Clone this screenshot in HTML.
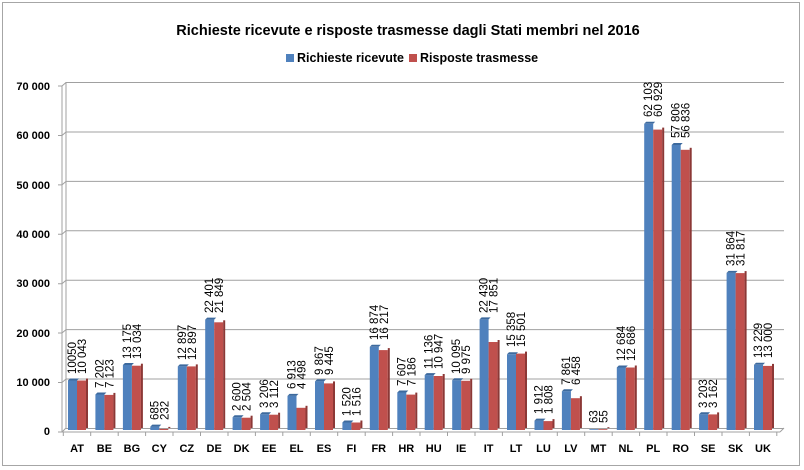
<!DOCTYPE html>
<html><head><meta charset="utf-8"><style>
body{margin:0;background:#fff}
svg{display:block;font-family:"Liberation Sans",sans-serif}
.yl{font-size:11px;font-weight:bold;text-anchor:end}
.xl{font-size:11px;font-weight:bold;text-anchor:middle}
.v{font-size:11.5px}
</style></head><body>
<svg width="804" height="470" xmlns="http://www.w3.org/2000/svg">
<rect x="2.5" y="2.5" width="797" height="463" fill="#fff" stroke="#a6a6a6"/>
<text x="408" y="35" text-anchor="middle" font-size="14.5" font-weight="bold">Richieste ricevute e risposte trasmesse dagli Stati membri nel 2016</text>
<rect x="286" y="54" width="8" height="8" fill="#4f81bd"/>
<text x="297" y="62" font-size="12.5" font-weight="bold">Richieste ricevute</text>
<rect x="409" y="54" width="8" height="8" fill="#c0504d"/>
<text x="420" y="62" font-size="12.5" font-weight="bold">Risposte trasmesse</text>
<g stroke="#a0a0a0" stroke-width="1" fill="none">
<path d="M66 428.5H784M66 379H784M66 329.6H784M66 280.2H784M66 230.8H784M66 181.4H784M66 132H784M66 82.5H784"/>
<path d="M66 82V428M62 86V432M62 432H780M780 432L784 428"/>
<path d="M62 432L66 428M62 382.5L66 379M62 333L66 329.6M62 283.7L66 280.2M62 234.3L66 230.8M62 184.9L66 181.4M62 135.5L66 132M62 86L66 82.5"/>
<path d="M58 432H62M58 382.5H62M58 333H62M58 283.7H62M58 234.3H62M58 184.9H62M58 135.5H62M58 86H62"/>
<path d="M63.3 432v4M90.7 432v4M118.2 432v4M145.6 432v4M173 432v4M200.5 432v4M228 432v4M255.4 432v4M282.8 432v4M310.3 432v4M337.7 432v4M365.2 432v4M392.6 432v4M420 432v4M447.5 432v4M475 432v4M502.4 432v4M529.8 432v4M557.3 432v4M584.7 432v4M612.2 432v4M639.6 432v4M667 432v4M694.5 432v4M722 432v4M749.4 432v4M776.8 432v4"/>
</g>
<g class="yl">
<text x="50" y="435">0</text><text x="50" y="386">10 000</text><text x="50" y="337">20 000</text><text x="50" y="287">30 000</text><text x="50" y="238">40 000</text><text x="50" y="189">50 000</text><text x="50" y="139">60 000</text><text x="50" y="90">70 000</text>
</g>
<g class="xl">
<text x="77" y="452">AT</text><text x="104.4" y="452">BE</text><text x="131.9" y="452">BG</text><text x="159.3" y="452">CY</text><text x="186.8" y="452">CZ</text><text x="214.2" y="452">DE</text><text x="241.6" y="452">DK</text><text x="269.1" y="452">EE</text><text x="296.5" y="452">EL</text><text x="324" y="452">ES</text><text x="351.4" y="452">FI</text><text x="378.8" y="452">FR</text><text x="406.3" y="452">HR</text><text x="433.7" y="452">HU</text><text x="461.2" y="452">IE</text><text x="488.6" y="452">IT</text><text x="516" y="452">LT</text><text x="543.5" y="452">LU</text><text x="570.9" y="452">LV</text><text x="598.4" y="452">MT</text><text x="625.8" y="452">NL</text><text x="653.2" y="452">PL</text><text x="680.7" y="452">RO</text><text x="708.1" y="452">SE</text><text x="735.6" y="452">SK</text><text x="763" y="452">UK</text>
</g>
<g fill="#4f81bd">
<rect x="68" y="380.5" width="9" height="49.5"/><rect x="95.4" y="394.5" width="9" height="35.5"/><rect x="122.9" y="365" width="9" height="65"/><rect x="150.3" y="426.6" width="9" height="3.4"/><rect x="177.8" y="366.4" width="9" height="63.6"/><rect x="205.2" y="319.6" width="9" height="110.4"/><rect x="232.6" y="417.2" width="9" height="12.8"/><rect x="260.1" y="414.2" width="9" height="15.8"/><rect x="287.5" y="395.9" width="9" height="34.1"/><rect x="315" y="381.4" width="9" height="48.6"/><rect x="342.4" y="422.5" width="9" height="7.5"/><rect x="369.8" y="346.8" width="9" height="83.2"/><rect x="397.3" y="392.5" width="9" height="37.5"/><rect x="424.7" y="375.1" width="9" height="54.9"/><rect x="452.2" y="380.2" width="9" height="49.8"/><rect x="479.6" y="319.4" width="9" height="110.6"/><rect x="507" y="354.3" width="9" height="75.7"/><rect x="534.5" y="420.6" width="9" height="9.4"/><rect x="561.9" y="391.2" width="9" height="38.8"/><rect x="589.4" y="429.2" width="9" height="0.8"/><rect x="616.8" y="367.5" width="9" height="62.5"/><rect x="644.2" y="123.8" width="9" height="306.2"/><rect x="671.7" y="145" width="9" height="285"/><rect x="699.1" y="414.2" width="9" height="15.8"/><rect x="726.6" y="272.9" width="9" height="157.1"/><rect x="754" y="364.8" width="9" height="65.2"/>
</g>
<g fill="#c0504d">
<rect x="77" y="380.5" width="9" height="49.5"/><rect x="104.4" y="394.9" width="9" height="35.1"/><rect x="131.9" y="365.7" width="9" height="64.3"/><rect x="159.3" y="428.9" width="9" height="1.1"/><rect x="186.8" y="366.4" width="9" height="63.6"/><rect x="214.2" y="322.3" width="9" height="107.7"/><rect x="241.6" y="417.7" width="9" height="12.3"/><rect x="269.1" y="414.7" width="9" height="15.3"/><rect x="296.5" y="407.8" width="9" height="22.2"/><rect x="324" y="383.4" width="9" height="46.6"/><rect x="351.4" y="422.5" width="9" height="7.5"/><rect x="378.8" y="350.1" width="9" height="79.9"/><rect x="406.3" y="394.6" width="9" height="35.4"/><rect x="433.7" y="376" width="9" height="54"/><rect x="461.2" y="380.8" width="9" height="49.2"/><rect x="488.6" y="342" width="9" height="88"/><rect x="516" y="353.6" width="9" height="76.4"/><rect x="543.5" y="421.1" width="9" height="8.9"/><rect x="570.9" y="398.2" width="9" height="31.8"/><rect x="598.4" y="429.2" width="9" height="0.8"/><rect x="625.8" y="367.5" width="9" height="62.5"/><rect x="653.2" y="129.6" width="9" height="300.4"/><rect x="680.7" y="149.8" width="9" height="280.2"/><rect x="708.1" y="414.4" width="9" height="15.6"/><rect x="735.6" y="273.1" width="9" height="156.9"/><rect x="763" y="365.9" width="9" height="64.1"/>
</g>
<g fill="#8c3836">
<rect x="86" y="378.5" width="2" height="49.5"/><rect x="113.4" y="392.9" width="2" height="35.1"/><rect x="140.9" y="363.7" width="2" height="64.3"/><rect x="168.3" y="426.9" width="2" height="1.1"/><rect x="195.8" y="364.4" width="2" height="63.6"/><rect x="223.2" y="320.3" width="2" height="107.7"/><rect x="250.6" y="415.7" width="2" height="12.3"/><rect x="278.1" y="412.7" width="2" height="15.3"/><rect x="305.5" y="405.8" width="2" height="22.2"/><rect x="333" y="381.4" width="2" height="46.6"/><rect x="360.4" y="420.5" width="2" height="7.5"/><rect x="387.8" y="348.1" width="2" height="79.9"/><rect x="415.3" y="392.6" width="2" height="35.4"/><rect x="442.7" y="374" width="2" height="54"/><rect x="470.2" y="378.8" width="2" height="49.2"/><rect x="497.6" y="340" width="2" height="88"/><rect x="525" y="351.6" width="2" height="76.4"/><rect x="552.5" y="419.1" width="2" height="8.9"/><rect x="579.9" y="396.2" width="2" height="31.8"/><rect x="607.4" y="427.2" width="2" height="1"/><rect x="634.8" y="365.5" width="2" height="62.5"/><rect x="662.2" y="127.6" width="2" height="300.4"/><rect x="689.7" y="147.8" width="2" height="280.2"/><rect x="717.1" y="412.4" width="2" height="15.6"/><rect x="744.6" y="271.1" width="2" height="156.9"/><rect x="772" y="363.9" width="2" height="64.1"/>
</g>
<g fill="#3d6a9e">
<path d="M68 380.5l2-2h9l-2 2z"/><path d="M95.4 394.5l2-2h9l-2 2z"/><path d="M122.9 365l2-2h9l-2 2z"/><path d="M150.3 426.6l2-2h9l-2 2z"/><path d="M177.8 366.4l2-2h9l-2 2z"/><path d="M205.2 319.6l2-2h9l-2 2z"/><path d="M232.6 417.2l2-2h9l-2 2z"/><path d="M260.1 414.2l2-2h9l-2 2z"/><path d="M287.5 395.9l2-2h9l-2 2z"/><path d="M315 381.4l2-2h9l-2 2z"/><path d="M342.4 422.5l2-2h9l-2 2z"/><path d="M369.8 346.8l2-2h9l-2 2z"/><path d="M397.3 392.5l2-2h9l-2 2z"/><path d="M424.7 375.1l2-2h9l-2 2z"/><path d="M452.2 380.2l2-2h9l-2 2z"/><path d="M479.6 319.4l2-2h9l-2 2z"/><path d="M507 354.3l2-2h9l-2 2z"/><path d="M534.5 420.6l2-2h9l-2 2z"/><path d="M561.9 391.2l2-2h9l-2 2z"/><path d="M616.8 367.5l2-2h9l-2 2z"/><path d="M644.2 123.8l2-2h9l-2 2z"/><path d="M671.7 145l2-2h9l-2 2z"/><path d="M699.1 414.2l2-2h9l-2 2z"/><path d="M726.6 272.9l2-2h9l-2 2z"/><path d="M754 364.8l2-2h9l-2 2z"/>
</g>
<g class="v">
<text transform="translate(76,374) rotate(-90)"><tspan x="0" y="0">10050</tspan><tspan x="0" y="10">10 043</tspan></text>
<text transform="translate(103.4,388) rotate(-90)"><tspan x="0" y="0">7 202</tspan><tspan x="0" y="10">7 123</tspan></text>
<text transform="translate(130.9,359) rotate(-90)"><tspan x="0" y="0">13 175</tspan><tspan x="0" y="10">13 034</tspan></text>
<text transform="translate(158.3,420) rotate(-90)"><tspan x="0" y="0">685</tspan><tspan x="0" y="10">232</tspan></text>
<text transform="translate(185.8,360) rotate(-90)"><tspan x="0" y="0">12 897</tspan><tspan x="0" y="10">12 897</tspan></text>
<text transform="translate(213.2,313) rotate(-90)"><tspan x="0" y="0">22 401</tspan><tspan x="0" y="10">21 849</tspan></text>
<text transform="translate(240.6,411) rotate(-90)"><tspan x="0" y="0">2 600</tspan><tspan x="0" y="10">2 504</tspan></text>
<text transform="translate(268.1,408) rotate(-90)"><tspan x="0" y="0">3 206</tspan><tspan x="0" y="10">3 112</tspan></text>
<text transform="translate(295.5,389) rotate(-90)"><tspan x="0" y="0">6 913</tspan><tspan x="0" y="10">4 498</tspan></text>
<text transform="translate(323,375) rotate(-90)"><tspan x="0" y="0">9 867</tspan><tspan x="0" y="10">9 445</tspan></text>
<text transform="translate(350.4,416) rotate(-90)"><tspan x="0" y="0">1 520</tspan><tspan x="0" y="10">1 516</tspan></text>
<text transform="translate(377.8,340) rotate(-90)"><tspan x="0" y="0">16 874</tspan><tspan x="0" y="10">16 217</tspan></text>
<text transform="translate(405.3,386) rotate(-90)"><tspan x="0" y="0">7 607</tspan><tspan x="0" y="10">7 186</tspan></text>
<text transform="translate(432.7,369) rotate(-90)"><tspan x="0" y="0">11 136</tspan><tspan x="0" y="10">10 947</tspan></text>
<text transform="translate(460.2,374) rotate(-90)"><tspan x="0" y="0">10 095</tspan><tspan x="0" y="10">9 975</tspan></text>
<text transform="translate(487.6,313) rotate(-90)"><tspan x="0" y="0">22 430</tspan><tspan x="0" y="10">17 851</tspan></text>
<text transform="translate(515,347) rotate(-90)"><tspan x="0" y="0">15 358</tspan><tspan x="0" y="10">15 501</tspan></text>
<text transform="translate(542.5,414) rotate(-90)"><tspan x="0" y="0">1 912</tspan><tspan x="0" y="10">1 808</tspan></text>
<text transform="translate(569.9,385) rotate(-90)"><tspan x="0" y="0">7 861</tspan><tspan x="0" y="10">6 458</tspan></text>
<text transform="translate(597.4,423) rotate(-90)"><tspan x="0" y="0">63</tspan><tspan x="0" y="10">55</tspan></text>
<text transform="translate(624.8,361) rotate(-90)"><tspan x="0" y="0">12 684</tspan><tspan x="0" y="10">12 686</tspan></text>
<text transform="translate(652.2,117) rotate(-90)"><tspan x="0" y="0">62 103</tspan><tspan x="0" y="10">60 929</tspan></text>
<text transform="translate(679.7,138) rotate(-90)"><tspan x="0" y="0">57 806</tspan><tspan x="0" y="10">56 836</tspan></text>
<text transform="translate(707.1,408) rotate(-90)"><tspan x="0" y="0">3 203</tspan><tspan x="0" y="10">3 162</tspan></text>
<text transform="translate(734.6,266) rotate(-90)"><tspan x="0" y="0">31 864</tspan><tspan x="0" y="10">31 817</tspan></text>
<text transform="translate(762,358) rotate(-90)"><tspan x="0" y="0">13 229</tspan><tspan x="0" y="10">13 000</tspan></text>
</g>
</svg>
</body></html>
